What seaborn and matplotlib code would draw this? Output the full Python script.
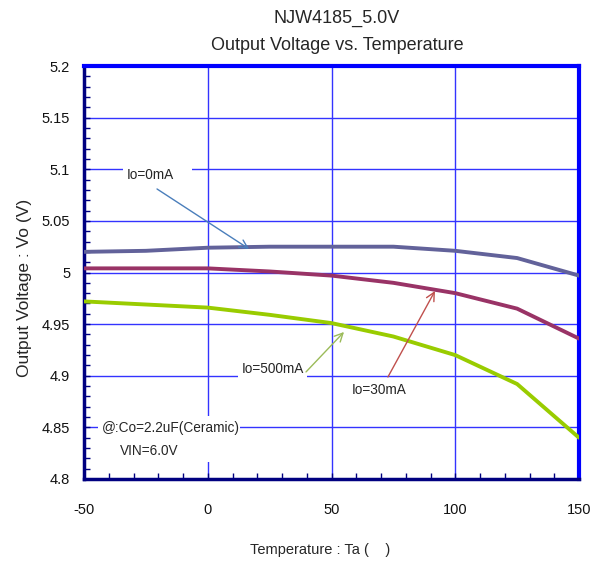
import matplotlib
matplotlib.use("Agg")
import matplotlib.pyplot as plt
from matplotlib.ticker import MultipleLocator, FuncFormatter
from matplotlib.patches import Rectangle
import seaborn as sns
import pandas as pd

temps = [-50, -25, 0, 25, 50, 75, 100, 125, 150]
vo_0mA = [5.020, 5.021, 5.024, 5.025, 5.025, 5.025, 5.021, 5.014, 4.997]
vo_30mA = [5.004, 5.004, 5.004, 5.001, 4.997, 4.990, 4.980, 4.965, 4.936]
vo_500mA = [4.972, 4.969, 4.966, 4.959, 4.951, 4.938, 4.920, 4.892, 4.840]
series_names = ["Io=0mA", "Io=30mA", "Io=500mA"]
series_colors = ["#62629a", "#993366", "#99cc00"]
x_ticks = [-50, 0, 50, 100, 150]
y_ticks = [4.8, 4.85, 4.9, 4.95, 5.0, 5.05, 5.1, 5.15, 5.2]

sns.set_style("white")
plt.rcParams["font.family"] = ["Liberation Sans", "DejaVu Sans"]
plt.rcParams["axes.unicode_minus"] = False

df = pd.DataFrame({
    "Ta": temps * 3,
    "Vo": vo_0mA + vo_30mA + vo_500mA,
    "series": sum([[n] * len(temps) for n in series_names], []),
})

fig = plt.figure(figsize=(6.05, 5.65), dpi=100)
ax = fig.add_axes([84 / 605, 1 - 479 / 565, (579 - 84) / 605, (479 - 66) / 565])

sns.lineplot(data=df, x="Ta", y="Vo", hue="series", palette=dict(zip(series_names, series_colors)),
             linewidth=2.8, legend=False, ax=ax, zorder=3)

ax.set_xlim(-50, 150)
ax.set_ylim(4.8, 5.2)
ax.set_xticks(x_ticks)
ax.set_yticks(y_ticks)
ax.yaxis.set_major_formatter(FuncFormatter(lambda v, p: f"{v:g}"))
ax.xaxis.set_minor_locator(MultipleLocator(10))
ax.yaxis.set_minor_locator(MultipleLocator(0.01))
ax.grid(True, which="major", color="#3333ff", linewidth=1.0)
ax.grid(False, which="minor")
ax.set_axisbelow(True)
ax.tick_params(which="both", direction="in", bottom=True, left=True, top=False, right=False,
               color="#000080", length=4, width=1)
ax.tick_params(which="major", labelsize=10.5, labelcolor="#111111")
ax.tick_params(axis="x", which="major", pad=17)
ax.tick_params(axis="y", which="major", pad=10)

for side in ["left", "bottom"]:
    ax.spines[side].set_color("#000080")
    ax.spines[side].set_linewidth(2.5)
for side in ["top", "right"]:
    ax.spines[side].set_color("#0000ff")
    ax.spines[side].set_linewidth(3)

ax.set_xlabel("Temperature : Ta (    )", fontsize=10.5)
ax.set_ylabel("Output Voltage : Vo (V)", fontsize=12.5)
ax.xaxis.set_label_coords(0.477, -0.155)
ax.yaxis.set_label_coords(-0.105, 0.462)
fig.text(0.557, 1 - 18 / 565, "NJW4185_5.0V", ha="center", va="center", fontsize=13)
fig.text(0.557, 1 - 46 / 565, "Output Voltage vs. Temperature", ha="center", va="center", fontsize=13)

# white label boxes hiding gridlines
for (x0, x1, y0, y1) in [(-34.2, -6.4, 5.0828, 5.1061),
                         (12.2, 40.1, 4.8940, 4.9172),
                         (-44.3, 13.0, 4.8165, 4.8610)]:
    ax.add_patch(Rectangle((x0, y0), x1 - x0, y1 - y0, fc="white", ec="none", zorder=1.5))

fs = 9.8
ax.text(-32.6, 5.0944, "Io=0mA", fontsize=fs, va="center", ha="left", zorder=5)
ax.text(13.8, 4.9065, "Io=500mA", fontsize=fs, va="center", ha="left", zorder=5)
ax.text(58.3, 4.886, "Io=30mA", fontsize=fs, va="center", ha="left", zorder=5)
ax.text(-42.7, 4.8494, "@:Co=2.2uF(Ceramic)", fontsize=fs, va="center", ha="left", zorder=5)
ax.text(-35.5, 4.8275, "VIN=6.0V", fontsize=fs, va="center", ha="left", zorder=5)

arrows = [((-20.5, 5.0809), (16.7, 5.0228), "#4a7ebb"),
          ((39.7, 4.9037), (55.05, 4.9424), "#9bbb59"),
          ((72.8, 4.8988), (91.8, 4.9821), "#c0504d")]
for start, end, col in arrows:
    ax.annotate("", xy=end, xytext=start, zorder=5,
                arrowprops=dict(arrowstyle="->,head_length=0.6,head_width=0.3", color=col, lw=1,
                                shrinkA=0, shrinkB=0))

fig.savefig("out.png", dpi=100)
